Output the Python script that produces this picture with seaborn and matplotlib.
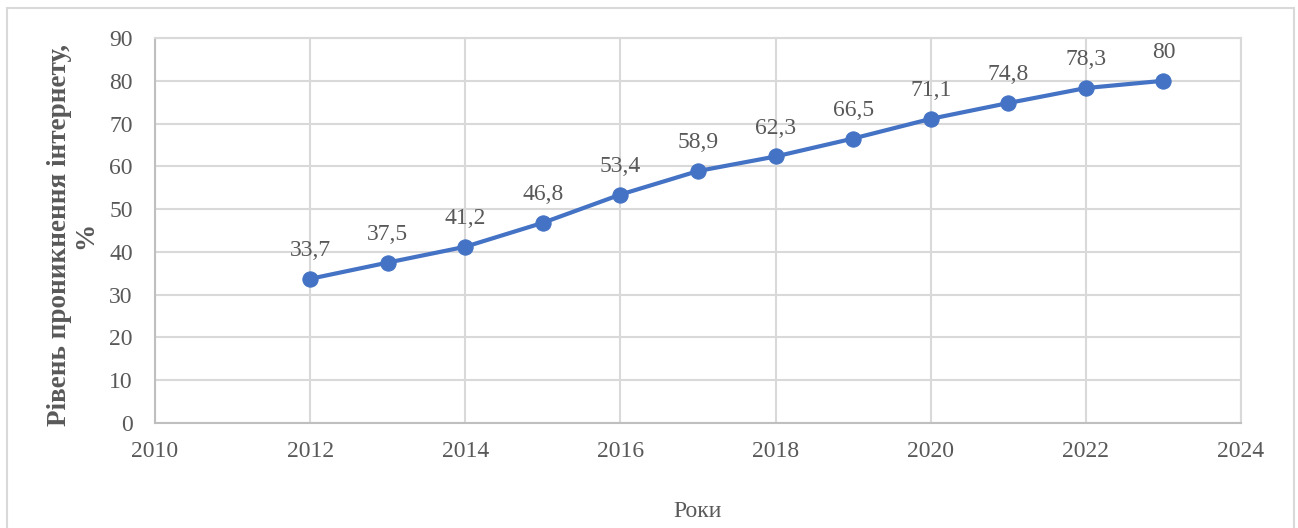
import matplotlib
matplotlib.use("Agg")
import matplotlib.pyplot as plt
import seaborn as sns
import pandas as pd
from matplotlib.patches import Rectangle

# --- Data ---
years = [2012, 2013, 2014, 2015, 2016, 2017, 2018, 2019, 2020, 2021, 2022, 2023]
penetration = [33.7, 37.5, 41.2, 46.8, 53.4, 58.9, 62.3, 66.5, 71.1, 74.8, 78.3, 80.0]
x_ticks = [2010, 2012, 2014, 2016, 2018, 2020, 2022, 2024]
y_ticks = [0, 10, 20, 30, 40, 50, 60, 70, 80, 90]

df = pd.DataFrame({"year": years, "value": penetration})

sns.set_style("white")
plt.rcParams['font.family'] = ['Liberation Serif', 'DejaVu Serif']

TEXT = '#595959'
GRID = '#d9d9d9'
BLUE = '#4472c4'

fig = plt.figure(figsize=(12.98, 5.28), dpi=100)
ax = fig.add_axes([155 / 1298, 1 - 423 / 528, (1241 - 155) / 1298, (423 - 38) / 528])

# outer chart border
fig.patches.append(Rectangle((7 / 1298, -0.02), 1287 / 1298, 1.0 - 8 / 528 + 0.02,
                             transform=fig.transFigure, fill=False,
                             edgecolor=GRID, linewidth=1.5))

sns.lineplot(data=df, x="year", y="value", ax=ax, color=BLUE, linewidth=3,
             marker='o', markersize=11, markeredgecolor=BLUE)

# data labels above the points
for x, y in zip(years, penetration):
    label = f"{y:g}".replace('.', ',')
    ax.annotate(label, (x, y), xytext=(0, 16.5), textcoords='offset points',
                ha='center', va='baseline', fontsize=17, color=TEXT)

ax.set_xlim(2010, 2024)
ax.set_ylim(0, 90)
ax.set_xticks(x_ticks)
ax.set_yticks(y_ticks)
ax.tick_params(axis='both', labelsize=17, colors=TEXT, length=0)
ax.tick_params(axis='y', pad=16)
ax.tick_params(axis='x', pad=13)
ax.grid(True, color=GRID, linewidth=1.5)
ax.set_axisbelow(True)
for side in ['top', 'right']:
    ax.spines[side].set_color(GRID)
    ax.spines[side].set_linewidth(1.5)
for side in ['left', 'bottom']:
    ax.spines[side].set_color('#bfbfbf')
    ax.spines[side].set_linewidth(1.5)

ax.set_xlabel("Роки", fontsize=17, color=TEXT, labelpad=28)
ax.set_ylabel("Рівень проникнення інтернету,\n%", fontsize=19.5, color=TEXT,
              fontweight='bold', linespacing=1.1, va='center')
ax.yaxis.set_label_coords(-0.076, 0.488)

fig.savefig("out.png", dpi=100)
